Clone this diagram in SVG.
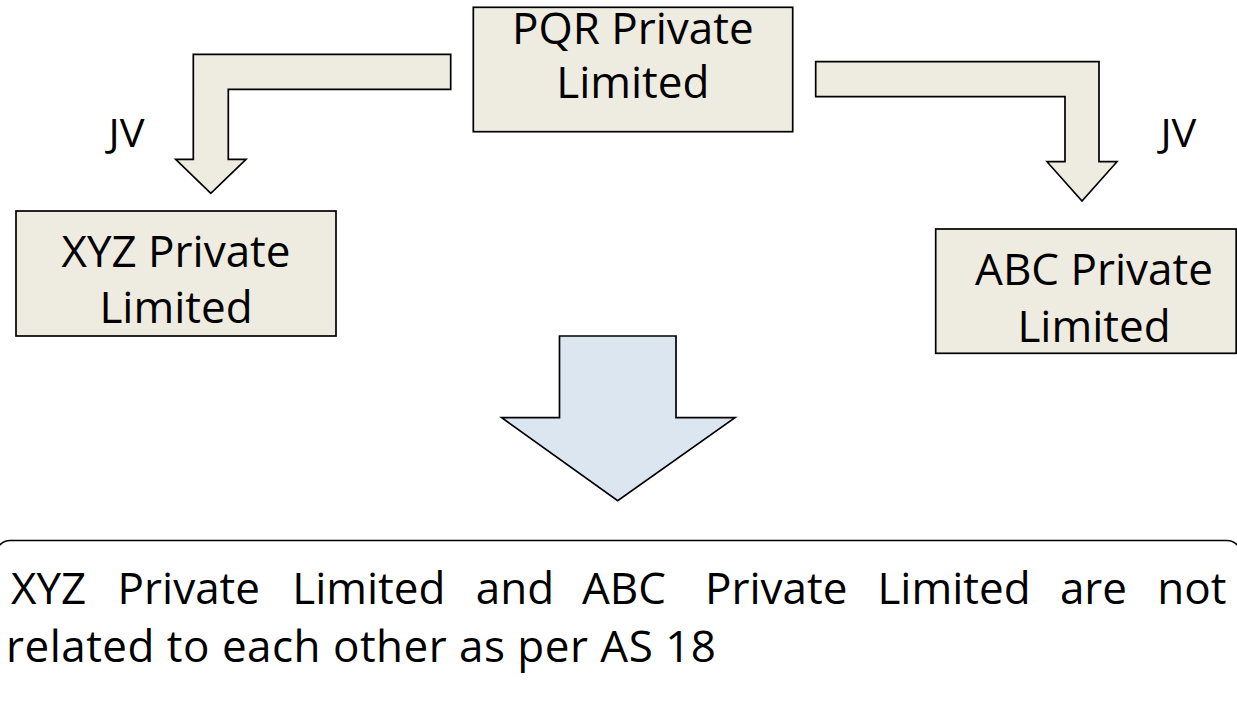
<svg xmlns="http://www.w3.org/2000/svg" width="1237" height="703" viewBox="0 0 1237 703">
  <style>
    .box { fill: #EEEBE0; stroke: #000; stroke-width: 1.7; }
    .bent { fill: #EEEBE0; stroke: #000; stroke-width: 1.7; stroke-linejoin: miter; }
    .big { fill: #DCE6F1; stroke: #000; stroke-width: 1.7; stroke-linejoin: miter; }
    .note { fill: #FFFFFF; stroke: #000; stroke-width: 1.7; }
    text { font-family: "Open Sans", "Noto Sans", "Liberation Sans", sans-serif; fill: #000; }
    .lbl { font-size: 44px; text-anchor: middle; }
    .jv { font-size: 38px; text-anchor: middle; }
    .body { font-size: 44px; }
    .w { font-size: 44px; text-anchor: middle; }
  </style>
  <rect x="0" y="0" width="1237" height="703" fill="#FFFFFF"/>

  <g id="connectors">
    <polygon class="bent" points="450.7,54.3 193.3,54.3 193.3,159.3 175.7,159.3 210.8,193.3 246,159.3 228.3,159.3 228.3,89.3 450.7,89.3"/>
    <polygon class="bent" points="815.7,61.7 1099,61.7 1099,161.7 1117,161.7 1082,201 1047,161.7 1065,161.7 1065,96.7 815.7,96.7"/>
    <polygon class="big" points="559.5,336 676,336 676,417.7 735,417.7 617.7,500.7 501.7,417.7 559.5,417.7"/>
    <text class="jv" x="126.5" y="146.7" textLength="36" lengthAdjust="spacingAndGlyphs">JV</text>
    <text class="jv" x="1178.4" y="146.7" textLength="36" lengthAdjust="spacingAndGlyphs">JV</text>
  </g>

  <g id="pqr">
    <rect class="box" x="473.3" y="7.3" width="319.4" height="124.4"/>
    <text class="lbl" x="632.8" y="43.5">PQR Private</text>
    <text class="lbl" x="632.8" y="98">Limited</text>
  </g>

  <g id="xyz">
    <rect class="box" x="16" y="211" width="320" height="125"/>
    <text class="lbl" x="176" y="266.7">XYZ Private</text>
    <text class="lbl" x="176" y="323.3">Limited</text>
  </g>

  <g id="abc">
    <rect class="box" x="935.7" y="229" width="300.5" height="124.3"/>
    <text class="lbl" x="1094" y="285">ABC Private</text>
    <text class="lbl" x="1094" y="341.7">Limited</text>
  </g>

  <g id="conclusion">
    <rect class="note" x="-4" y="540.5" width="1245" height="200" rx="14" ry="14"/>
    <text class="w" x="48.7" y="604">XYZ</text>
    <text class="w" x="188.8" y="604">Private</text>
    <text class="w" x="368.8" y="604">Limited</text>
    <text class="w" x="515" y="604">and</text>
    <text class="w" x="623.9" y="604">ABC</text>
    <text class="w" x="776.2" y="604">Private</text>
    <text class="w" x="954" y="604">Limited</text>
    <text class="w" x="1093.5" y="604">are</text>
    <text class="w" x="1191.9" y="604">not</text>
    <text class="body" x="6" y="662" textLength="710" lengthAdjust="spacing">related to each other as per AS 18</text>
  </g>
</svg>
